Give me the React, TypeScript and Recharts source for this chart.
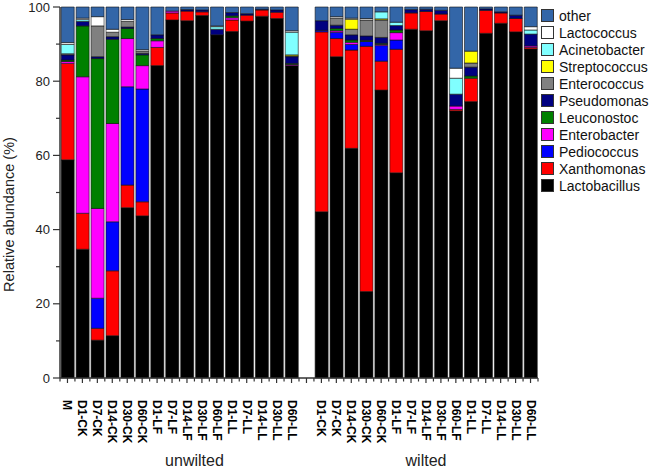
import React from "react";
import { BarChart, Bar, XAxis, YAxis } from "recharts";

const FONT = "'Liberation Sans', Arial, sans-serif";

// bar labels (the empty one is the spacer between the two groups)
const categories = [
  "M", "D1-CK", "D7-CK", "D14-CK", "D30-CK", "D60-CK", "D1-LF", "D7-LF", "D14-LF", "D30-LF", "D60-LF",
  "D1-LL", "D7-LL", "D14-LL", "D30-LL", "D60-LL",
  "",
  "D1-CK", "D7-CK", "D14-CK", "D30-CK", "D60-CK", "D1-LF", "D7-LF", "D14-LF", "D30-LF", "D60-LF",
  "D1-LL", "D7-LL", "D14-LL", "D30-LL", "D60-LL",
];

const groups = ["unwilted", "wilted"];

// relative abundance (%), unwilted (16) + spacer + wilted (15)
const lactobacillus = [
  58.8, 34.7, 10.2, 11.4, 45.9, 43.7, 84.2, 96.5, 96.3, 97.7, 92.5, 93.4, 96.2, 97.5, 96.9, 84.2,
  null,
  44.8, 86.6, 61.9, 23.3, 77.6, 55.3, 94.0, 93.6, 96.3, 72.0, 74.5, 92.9, 95.6, 93.3, 88.7,
];
const xanthomonas = [
  26.0, 9.7, 3.2, 17.5, 6.1, 3.8, 4.9, 1.9, 2.6, 1.0, 0, 3.1, 1.6, 1.7, 1.7, 0,
  null,
  48.5, 4.9, 26.5, 66.1, 7.8, 33.3, 4.4, 5.2, 1.8, 0.4, 6.3, 6.2, 2.8, 3.6, 0.4,
];
const pediococcus = [
  0, 0, 8.1, 13.2, 26.5, 30.4, 0, 0, 0, 0, 0, 0, 0, 0, 0, 0,
  null,
  0.4, 1.7, 1.5, 1.3, 4.2, 2.5, 0, 0, 0, 0, 0, 0, 0, 0, 0,
];
const enterobacter = [
  0.5, 36.8, 24.2, 26.5, 13.0, 6.3, 1.8, 0.5, 0, 0, 0, 0.6, 0, 0, 0, 0.3,
  null,
  0, 0.4, 0.6, 0, 0.3, 2.0, 0, 0, 0, 0.9, 0, 0, 0, 0, 0.4,
];
const leuconostoc = [
  0.4, 13.7, 40.4, 22.7, 2.7, 2.9, 0.6, 0, 0, 0, 0, 0.5, 0, 0, 0, 0.3,
  null,
  0, 0.6, 0.6, 0.3, 0.3, 0.7, 0, 0, 0, 0, 0.6, 0, 0, 0, 0,
];
const pseudomonas = [
  1.4, 1.2, 0.5, 0.7, 0.4, 0.4, 1.0, 0, 0.4, 0.5, 1.5, 0.9, 0.4, 0.2, 0.6, 1.8,
  null,
  2.6, 0.9, 1.4, 1.2, 1.6, 1.2, 0.9, 0.6, 1.0, 3.2, 2.4, 0.4, 0.3, 0.9, 3.2,
];
const enterococcus = [
  0.3, 0, 8.3, 1.2, 1.5, 0.6, 0, 0, 0, 0, 0, 0, 0, 0, 0, 0.2,
  null,
  0, 1.9, 1.5, 4.3, 4.7, 0, 0, 0, 0, 0, 1.1, 0, 0, 0, 0,
];
const streptococcus = [
  0, 0, 0, 0, 0, 0, 0, 0, 0, 0, 0, 0, 0, 0, 0, 0.3,
  null,
  0, 0, 2.7, 0, 0.3, 0, 0, 0, 0, 0, 3.2, 0, 0, 0, 0,
];
const acinetobacter = [
  2.5, 0.5, 0, 0, 0, 0, 0, 0, 0, 0, 0.7, 0, 0, 0, 0, 6.1,
  null,
  0, 0, 0, 0, 1.9, 0.9, 0, 0, 0, 4.3, 0, 0, 0, 0, 1.1,
];
const lactococcus = [
  0.5, 0.4, 2.5, 0.8, 0.5, 0.4, 0, 0, 0, 0, 0.2, 0, 0, 0, 0, 0.4,
  null,
  0, 0.4, 0.3, 0.4, 0, 0, 0, 0, 0, 2.7, 0, 0, 0, 0, 0.9,
];
const other = [
  9.6, 3.0, 2.6, 6.0, 3.4, 11.5, 7.5, 1.1, 0.7, 0.8, 5.1, 1.5, 1.8, 0.6, 0.8, 6.4,
  null,
  3.7, 2.6, 3.0, 3.1, 1.3, 4.1, 0.7, 0.6, 0.9, 16.5, 11.9, 0.5, 1.3, 2.2, 5.3,
];

const yTicks = [0, 10, 20, 30, 40, 50, 60, 70, 80, 90, 100];

// bottom to top of the stack
const series = [
  { key: "Lactobacillus", values: lactobacillus, color: "#000000" },
  { key: "Xanthomonas", values: xanthomonas, color: "#ff0000" },
  { key: "Pediococcus", values: pediococcus, color: "#0000ff" },
  { key: "Enterobacter", values: enterobacter, color: "#ff00ff" },
  { key: "Leuconostoc", values: leuconostoc, color: "#008000" },
  { key: "Pseudomonas", values: pseudomonas, color: "#000080" },
  { key: "Enterococcus", values: enterococcus, color: "#808080" },
  { key: "Streptococcus", values: streptococcus, color: "#ffff00" },
  { key: "Acinetobacter", values: acinetobacter, color: "#80ffff" },
  { key: "Lactococcus", values: lactococcus, color: "#ffffff" },
  { key: "other", values: other, color: "#3366a8" },
];

const data = categories.map((name, i) => {
  const row: Record<string, any> = { name };
  series.forEach((s) => (row[s.key] = s.values[i]));
  return row;
});

const WIDTH = 650;
const HEIGHT = 471;
const X_AXIS_H = 93;
const MARGIN = { top: 7, right: 112, bottom: 0, left: 0 };
const Y_AXIS_W = 60;
const BAND = (WIDTH - MARGIN.right - MARGIN.left - Y_AXIS_W) / categories.length;

const XTick = (props: any) => {
  const { x, y, payload, index } = props;
  return (
    <g>
      <line x1={x} y1={y} x2={x} y2={y + 5} stroke="#333" strokeWidth={1.2} />
      <line x1={x - BAND / 2} y1={y} x2={x - BAND / 2} y2={y + 3.5} stroke="#333" strokeWidth={1.2} />
      {index === categories.length - 1 && (
        <line x1={x + BAND / 2} y1={y} x2={x + BAND / 2} y2={y + 3.5} stroke="#333" strokeWidth={1.2} />
      )}
      <text
        transform={`translate(${x},${y + 22}) rotate(90)`}
        dominantBaseline="central"
        fontSize={12}
        fontWeight="bold"
        fontFamily={FONT}
        fill="#000"
      >
        {payload.value}
      </text>
      {index === 8 && (
        <text x={x + BAND / 2} y={y + 88} textAnchor="middle" fontSize={16} fontFamily={FONT} fill="#222">
          {groups[0]}
        </text>
      )}
      {index === 24 && (
        <text x={x} y={y + 88} textAnchor="middle" fontSize={16} fontFamily={FONT} fill="#222">
          {groups[1]}
        </text>
      )}
    </g>
  );
};

const YTick = (props: any) => {
  const { x, y, payload } = props;
  const major = payload.value % 20 === 0;
  return (
    <g>
      <line x1={major ? x + 3 : x + 6} y1={y} x2={x + 10} y2={y} stroke="#333" strokeWidth={1.2} />
      {major && (
        <text x={x} y={y} textAnchor="end" dominantBaseline="central" fontSize={13} fontFamily={FONT} fill="#222">
          {payload.value}
        </text>
      )}
    </g>
  );
};

const LegendBox = () => (
  <div style={{ position: "absolute", left: 541, top: 7, fontFamily: FONT, fontSize: 14, color: "#111" }}>
    {[...series].reverse().map((s) => (
      <div key={s.key} style={{ display: "flex", alignItems: "center", height: 17 }}>
        <div
          style={{
            width: 13,
            height: 13,
            background: s.color,
            border: "1px solid #333",
            marginRight: 5,
            boxSizing: "border-box",
          }}
        />
        <span>{s.key}</span>
      </div>
    ))}
  </div>
);

export default function App() {
  return (
    <div style={{ position: "absolute", left: 0, top: 0, width: WIDTH, height: HEIGHT, background: "#fff" }}>
      <BarChart width={WIDTH} height={HEIGHT} data={data} margin={MARGIN} barCategoryGap={1.2}>
        <XAxis
          dataKey="name"
          interval={0}
          tick={<XTick />}
          tickLine={false}
          tickSize={0}
          tickMargin={0}
          axisLine={{ stroke: "#333", strokeWidth: 1.5 }}
          height={X_AXIS_H}
        />
        <YAxis
          type="number"
          domain={[0, 100]}
          ticks={yTicks}
          interval={0}
          width={Y_AXIS_W}
          tick={<YTick />}
          tickLine={false}
          tickSize={0}
          tickMargin={10}
          axisLine={{ stroke: "#333", strokeWidth: 1.5 }}
          label={{
            value: "Relative abundance (%)",
            angle: -90,
            position: "center",
            dx: -21,
            dy: 22,
            style: { fontSize: 14.5, fontFamily: FONT, fill: "#222" },
          }}
        />
        {series.map((s) => (
          <Bar
            key={s.key}
            dataKey={s.key}
            stackId="a"
            fill={s.color}
            stroke="#111"
            strokeWidth={0.6}
            isAnimationActive={false}
          />
        ))}
      </BarChart>
      <LegendBox />
    </div>
  );
}
